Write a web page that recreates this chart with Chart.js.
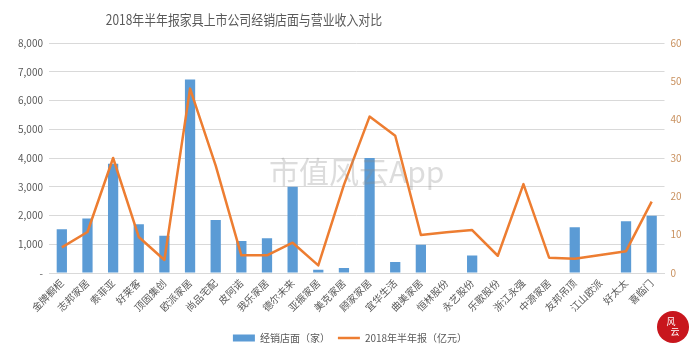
<!DOCTYPE html>
<html>
<head>
<meta charset="utf-8">
<script src="https://cdn.jsdelivr.net/npm/chart.js@4.4.1/dist/chart.umd.min.js"></script>
<style>
  html, body { margin: 0; padding: 0; background: #ffffff; }
  #wrap { width: 700px; height: 355px; position: relative; }
</style>
</head>
<body>
<div id="wrap"><canvas id="c" width="700" height="355"></canvas></div>
<script>
const titleText = '2018年半年报家具上市公司经销店面与营业收入对比';
const watermarkText = '市值风云App';
const categories = ['金牌橱柜','志邦家居','索菲亚','好莱客','顶固集创','欧派家居','尚品宅配','皮阿诺','我乐家居','德尔未来','亚振家居','美克家居','顾家家居','宜华生活','曲美家居','恒林股份','永艺股份','乐歌股份','浙江永强','中源家居','友邦吊顶','江山欧派','好太太','喜临门'];
const storeLabel = '经销店面（家）';
const stores = [1520, 1900, 3800, 1700, 1300, 6730, 1840, 1115, 1210, 3000, 115, 170, 4000, 380, 980, null, 610, null, null, null, 1590, null, 1800, 1990];
const revenueLabel = '2018年半年报（亿元）';
const revenue = [6.7, 10.7, 30.0, 9.4, 3.4, 48.1, 28.0, 4.6, 4.6, 7.9, 2.0, 23.0, 40.8, 35.8, 9.9, 10.6, 11.2, 4.5, 23.2, 4.0, 3.7, 4.7, 5.7, 18.6];
const leftTicks = [0, 1000, 2000, 3000, 4000, 5000, 6000, 7000, 8000];
const rightTicks = [0, 10, 20, 30, 40, 50, 60];

const FONT = "'Noto Sans CJK SC', 'Noto Sans', sans-serif";
const BLUE = '#5B9BD5';
const ORANGE = '#ED7D31';
const GRAY = '#595959';

const extras = {
  id: 'extras',
  afterDatasetsDraw(chart) {
    const ctx = chart.ctx;
    const a = chart.chartArea;
    ctx.save();
    ctx.font = "30px " + FONT;
    ctx.fillStyle = 'rgba(140,140,140,0.30)';
    ctx.textAlign = 'center';
    ctx.textBaseline = 'middle';
    ctx.fillText(watermarkText, (a.left + a.right) / 2, a.top + (a.bottom - a.top) * 0.56);
    ctx.restore();
  },
  afterDraw(chart) {
    const ctx = chart.ctx;
    ctx.save();
    ctx.translate(244, 20);
    ctx.scale(0.85, 1);
    ctx.font = "14px " + FONT;
    ctx.fillStyle = GRAY;
    ctx.textAlign = 'center';
    ctx.textBaseline = 'middle';
    ctx.fillText(titleText, 0, 0);
    ctx.restore();
    // small red logo
    ctx.save();
    ctx.beginPath();
    ctx.arc(673, 327, 16, 0, Math.PI * 2);
    ctx.fillStyle = '#C8161D';
    ctx.fill();
    ctx.fillStyle = '#ffffff';
    ctx.font = "9px " + FONT;
    ctx.textAlign = 'center';
    ctx.textBaseline = 'middle';
    ctx.fillText('风', 671, 322);
    ctx.fillText('云', 675, 332);
    ctx.restore();
  }
};

new Chart(document.getElementById('c'), {
  data: {
    labels: categories,
    datasets: [
      {
        type: 'line',
        label: revenueLabel,
        data: revenue,
        yAxisID: 'y1',
        borderColor: ORANGE,
        backgroundColor: ORANGE,
        borderWidth: 2.5,
        pointRadius: 0,
        pointStyle: 'line',
        tension: 0,
        borderJoinStyle: 'round',
        order: 1
      },
      {
        type: 'bar',
        label: storeLabel,
        data: stores,
        yAxisID: 'y',
        backgroundColor: BLUE,
        borderWidth: 0,
        categoryPercentage: 1.0,
        barPercentage: 0.4,
        pointStyle: 'rect',
        order: 2
      }
    ]
  },
  options: {
    responsive: false,
    animation: false,
    devicePixelRatio: 1,
    layout: { padding: { top: 43, left: 0, right: 0, bottom: 2 } },
    plugins: {
      title: { display: false },
      tooltip: { enabled: false },
      legend: {
        display: true,
        position: 'bottom',
        reverse: true,
        labels: {
          usePointStyle: true,
          pointStyleWidth: 22,
          boxHeight: 7,
          padding: 8,
          color: GRAY,
          font: { family: FONT, size: 10 }
        }
      }
    },
    scales: {
      x: {
        grid: { display: false, drawTicks: false },
        border: { display: true, color: '#D9D9D9', width: 1 },
        ticks: {
          color: GRAY,
          font: { family: FONT, size: 10 },
          minRotation: 45,
          maxRotation: 45,
          autoSkip: false,
          padding: 4
        },
        afterFit(s) { s.height = 52; }
      },
      y: {
        position: 'left',
        min: 0,
        max: 8000,
        afterBuildTicks(s) { s.ticks = leftTicks.map(v => ({ value: v })); },
        grid: { color: '#D9D9D9', lineWidth: 1, drawTicks: false },
        border: { display: false },
        ticks: {
          color: GRAY,
          font: { family: FONT, size: 10 },
          padding: 6,
          callback: v => v === 0 ? '-' : v.toLocaleString('en-US')
        },
        afterFit(s) { s.width = 49; }
      },
      y1: {
        position: 'right',
        min: 0,
        max: 60,
        afterBuildTicks(s) { s.ticks = rightTicks.map(v => ({ value: v })); },
        grid: { display: false, drawTicks: false },
        border: { display: false },
        ticks: {
          color: '#C9915F',
          font: { family: FONT, size: 10 },
          padding: 6,
          callback: v => String(v)
        },
        afterFit(s) { s.width = 35.5; }
      }
    }
  },
  plugins: [extras]
});
</script>
</body>
</html>
